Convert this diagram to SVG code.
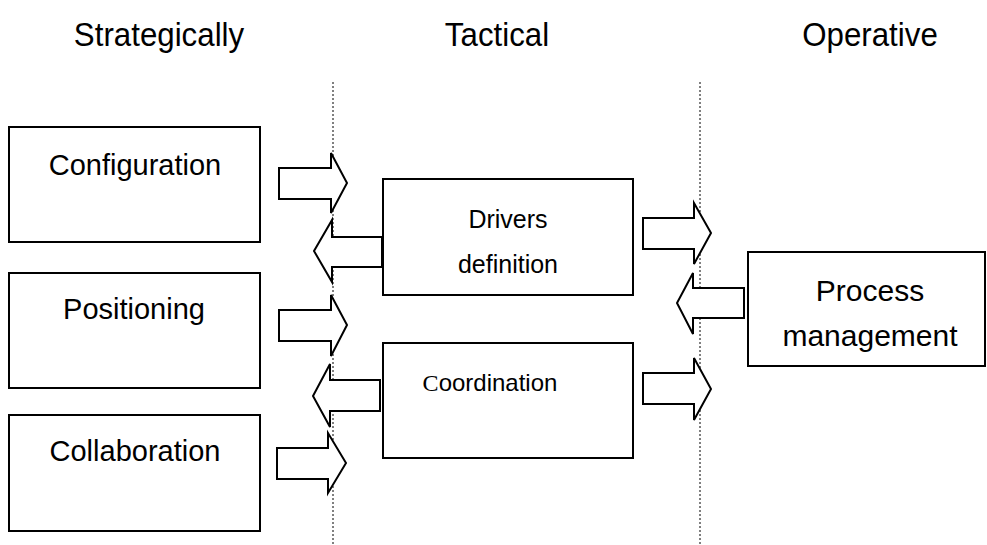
<svg xmlns="http://www.w3.org/2000/svg" width="987" height="545" viewBox="0 0 987 545">
  <style>
    .box { fill: #fff; stroke: #000; stroke-width: 2; }
    .arrow { fill: #fff; stroke: #000; stroke-width: 2; stroke-linejoin: miter; }
    .divider { stroke: #000; stroke-width: 1; stroke-dasharray: 2 2; fill: none; }
    text { font-family: "Liberation Sans", Arial, sans-serif; font-size: 29px; fill: #000; text-anchor: middle; }
    .head { font-size: 34px; }
    .mid { font-size: 25px; }
    .small { font-size: 24px; }
    .big { font-size: 30px; }
  </style>

  <!-- column headings (narrow setting) -->
  <text class="head" transform="translate(159,46) scale(0.92,1)">Strategically</text>
  <text class="head" transform="translate(497,46) scale(0.92,1)">Tactical</text>
  <text class="head" transform="translate(870,46) scale(0.92,1)">Operative</text>

  <!-- level dividers -->
  <line class="divider" x1="333" y1="82" x2="333" y2="545"/>
  <line class="divider" x1="700" y1="82" x2="700" y2="545"/>

  <!-- strategic nodes -->
  <g id="configuration">
    <rect class="box" x="9" y="127" width="251" height="115"/>
    <text x="135" y="175">Configuration</text>
  </g>
  <g id="positioning">
    <rect class="box" x="9" y="273" width="251" height="115"/>
    <text x="134" y="319">Positioning</text>
  </g>
  <g id="collaboration">
    <rect class="box" x="9" y="415" width="251" height="116"/>
    <text x="135" y="461">Collaboration</text>
  </g>

  <!-- tactical nodes -->
  <g id="drivers-definition">
    <rect class="box" x="383" y="179" width="250" height="116"/>
    <text class="mid" x="508" y="228">Drivers</text>
    <text class="mid" x="508" y="273">definition</text>
  </g>
  <g id="coordination">
    <rect class="box" x="383" y="343" width="250" height="115"/>
    <text class="small" x="490" y="391"><tspan font-family="Liberation Serif, serif">C</tspan>oordination</text>
  </g>

  <!-- operative node -->
  <g id="process-management">
    <rect class="box" x="748" y="252" width="237" height="114"/>
    <text class="big" x="870" y="301">Process</text>
    <text class="big" x="870" y="346">management</text>
  </g>

  <!-- block arrows between levels -->
  <g id="connectors">
    <polygon class="arrow" points="279,168 331,168 331,153 347,183 331,213 331,199 279,199"/>
    <polygon class="arrow" points="382,237 332,237 332,220 314,251 332,282 332,267 382,267"/>
    <polygon class="arrow" points="279,310 331,310 331,295 347,325 331,356 331,341 279,341"/>
    <polygon class="arrow" points="380,380 330,380 330,364 313,396 330,427 330,411 380,411"/>
    <polygon class="arrow" points="277,448 328,448 328,433 346,463 328,493 328,479 277,479"/>
    <polygon class="arrow" points="643,218 694,218 694,203 711,233 694,264 694,249 643,249"/>
    <polygon class="arrow" points="744,288 693,288 693,273 677,303 693,334 693,318 744,318"/>
    <polygon class="arrow" points="643,373 694,373 694,358 711,389 694,420 694,404 643,404"/>
  </g>
</svg>
